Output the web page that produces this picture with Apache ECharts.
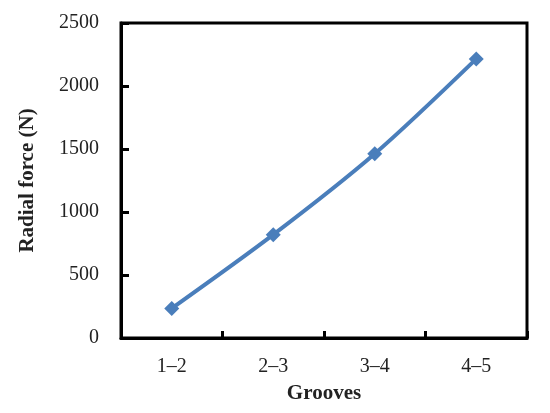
<!DOCTYPE html>
<html><head><meta charset="utf-8">
<script src="https://cdn.jsdelivr.net/npm/echarts@6/dist/echarts.min.js"></script>
<style>html,body{margin:0;padding:0;background:#fff}#c{width:550px;height:413px}</style>
</head><body><div id="c"></div>
<script>
var categories = ['1–2', '2–3', '3–4', '4–5'];
var radialForce = [235, 820, 1462, 2215];
var yTicks = [0, 500, 1000, 1500, 2000, 2500];

var font = '"Liberation Serif","DejaVu Serif",serif';
var chart = echarts.init(document.getElementById('c'));
chart.setOption({
  animation: false,
  backgroundColor: '#fff',
  grid: {left: 121, right: 23, top: 23, bottom: 75, show: true, borderColor: '#000', borderWidth: 3, backgroundColor: 'transparent'},
  xAxis: {
    type: 'category', data: categories, boundaryGap: true,
    axisLine: {lineStyle: {color: '#000', width: 3}},
    axisTick: {show: true, inside: true, length: 7, lineStyle: {color: '#000', width: 3}},
    axisLabel: {color: '#222', fontFamily: font, fontSize: 20, margin: 19},
    name: 'Grooves', nameLocation: 'middle', nameGap: 45,
    nameTextStyle: {color: '#222', fontFamily: font, fontSize: 21, fontWeight: 'bold'}
  },
  yAxis: {
    type: 'value', min: yTicks[0], max: yTicks[yTicks.length - 1], interval: 500,
    splitLine: {show: false},
    axisLine: {show: true, lineStyle: {color: '#000', width: 3}},
    axisTick: {show: true, inside: false, length: -8, lineStyle: {color: '#000', width: 3}},
    axisLabel: {color: '#222', fontFamily: font, fontSize: 20, margin: 22,
      formatter: function (v) { return String(v); }},
    name: 'Radial force (N)', nameLocation: 'middle', nameGap: 83,
    nameTextStyle: {color: '#222', fontFamily: font, fontSize: 21, fontWeight: 'bold'}
  },
  series: [{
    type: 'line', data: radialForce, smooth: 0.3,
    symbol: 'diamond', symbolSize: 15,
    lineStyle: {color: '#4a7ebb', width: 4},
    itemStyle: {color: '#4a7ebb'}
  }]
});
</script></body></html>
